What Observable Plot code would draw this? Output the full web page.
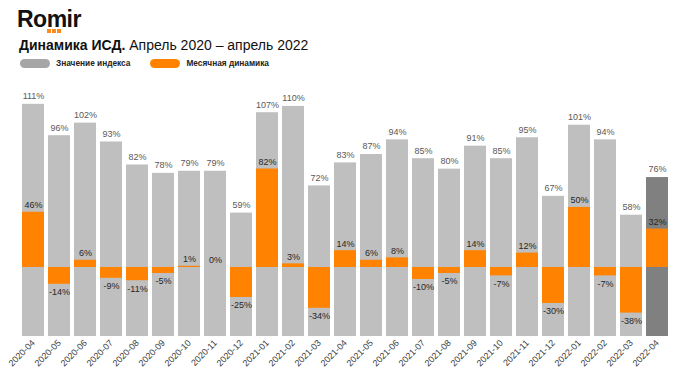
<!DOCTYPE html>
<html><head><meta charset="utf-8">
<script src="https://cdn.jsdelivr.net/npm/d3@7"></script>
<script src="https://cdn.jsdelivr.net/npm/@observablehq/plot@0.6"></script>
<style>
html,body{margin:0;padding:0;background:#fff;}
#wrap{position:relative;width:680px;height:383px;font-family:"Liberation Sans",Arial,sans-serif;overflow:hidden;}
#logo{position:absolute;left:17px;top:6px;font-weight:bold;font-size:23px;letter-spacing:-0.5px;color:#111;line-height:26px;}
.dot{position:absolute;top:29px;width:3.5px;height:3.5px;background:#ff8c1a;z-index:5;}
#title{position:absolute;left:19px;top:37px;font-size:14px;color:#111;white-space:nowrap;line-height:16px;}
#legend{position:absolute;left:20px;top:57px;font-size:8.3px;font-weight:bold;color:#222;}
.sw{display:inline-block;width:30px;height:9px;border-radius:5px;vertical-align:middle;margin-right:6px;}
.it{display:inline-block;margin-right:20px;vertical-align:middle;}
#chart{position:absolute;left:0;top:75px;}
</style></head>
<body><div id="wrap">
<div id="logo">Romir</div>
<div class="dot" style="left:47px"></div><div class="dot" style="left:52px"></div><div class="dot" style="left:57px"></div>
<div id="title"><b>Динамика ИСД.</b> Апрель 2020 – апрель 2022</div>
<div id="legend"><span class="it"><span class="sw" style="background:#a6a6a6"></span>Значение индекса</span><span class="it"><span class="sw" style="background:#ff8200"></span>Месячная динамика</span></div>
<div id="chart"></div>
</div>
<script>
const months = ["2020-04","2020-05","2020-06","2020-07","2020-08","2020-09","2020-10","2020-11","2020-12","2021-01","2021-02","2021-03","2021-04","2021-05","2021-06","2021-07","2021-08","2021-09","2021-10","2021-11","2021-12","2022-01","2022-02","2022-03","2022-04"];
const indexValues = [111,96,102,93,82,78,79,79,59,107,110,72,83,87,94,85,80,91,85,95,67,101,94,58,76];
const monthlyChange = [46,-14,6,-9,-11,-5,1,0,-25,82,3,-34,14,6,8,-10,-5,14,-7,12,-30,50,-7,-38,32];

// secondary axis for monthly change, expressed in primary-axis units
const secZero = 33, secRatio = 0.574;
const data = months.map((m,i)=>({
  month:m, idx:indexValues[i], chg:monthlyChange[i],
  last: i===months.length-1,
  c0: secZero, c1: secZero + monthlyChange[i]*secRatio
}));

const chart = Plot.plot({
  width:680, height:308,
  marginTop:10, marginBottom:47, marginLeft:17, marginRight:7,
  x:{type:"band", domain:months, padding:0.157, label:null},
  y:{domain:[0,120], axis:null},
  style:{fontFamily:"Liberation Sans, Arial, sans-serif", fontSize:"9px", color:"#404040"},
  marks:[
    Plot.barY(data,{x:"month", y:"idx", fill:d=>d.last?"#808080":"#bfbfbf"}),
    Plot.barY(data,{x:"month", y1:"c0", y2:"c1", fill:"#ff8200"}),
    Plot.text(data,{x:"month", y:"idx", text:d=>d.idx+"%", dy:-8, fill:"#595959", fontSize:9}),
    Plot.text(data,{x:"month", y:"c1", text:d=>d.chg+"%", fill:"#262626", fontSize:9,
      filter:d=>d.chg>=0, dy:-7}),
    Plot.text(data,{x:"month", y:"c1", text:d=>d.chg+"%", fill:"#262626", fontSize:9,
      filter:d=>d.chg<0, dy:8}),
    Plot.axisX({tickRotate:-45, tickSize:0, tickPadding:5, fontSize:9, fill:"#404040", label:null})
  ]
});
document.getElementById("chart").appendChild(chart);
</script>
</body></html>
